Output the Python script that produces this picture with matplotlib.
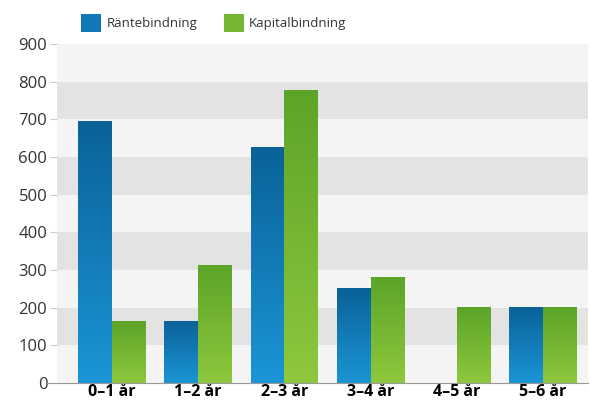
import numpy as np
import matplotlib.pyplot as plt
from matplotlib.colors import LinearSegmentedColormap
from matplotlib.patches import Patch

plt.rcParams['font.family'] = ['Open Sans', 'DejaVu Sans']

categories = ['0–1 år', '1–2 år', '2–3 år', '3–4 år', '4–5 år', '5–6 år']
rante = [693, 163, 624, 251, 0, 200]
kapital = [163, 313, 776, 280, 200, 200]
series_names = ['Räntebindning', 'Kapitalbindning']

blue_cmap = LinearSegmentedColormap.from_list('b', ['#1b95d6', '#0a6298'])
green_cmap = LinearSegmentedColormap.from_list('g', ['#8ec83d', '#5ca428'])

fig = plt.figure(figsize=(5.9, 4.03), dpi=100)
ax = fig.add_axes([0.0966, 0.0496, 0.9, 0.8413])

# alternating bands
ax.set_facecolor('#f4f4f4')
for lo in range(100, 900, 200):
    ax.axhspan(lo, lo + 100, color='#e3e3e3', zorder=0, lw=0)

x = np.arange(len(categories))
w = 0.39


def grad_bars(xs, vals, cmap):
    bars = ax.bar(xs, vals, w, color='none', lw=0, zorder=2)
    grad = np.linspace(0, 1, 256).reshape(-1, 1)
    for b in bars:
        h = b.get_height()
        if h <= 0:
            continue
        x0 = b.get_x()
        ax.imshow(grad, cmap=cmap, origin='lower', aspect='auto',
                  extent=[x0, x0 + w, 0, h], zorder=2, vmin=0, vmax=1)
    return bars


grad_bars(x - w / 2, rante, blue_cmap)
grad_bars(x + w / 2, kapital, green_cmap)

ax.set_xlim(-0.635, 5.52)
ax.set_ylim(0, 900)
ax.set_yticks(range(0, 901, 100))
ax.set_xticks(x)
ax.set_xticklabels(categories, fontweight='bold', fontsize=11.5)
ax.tick_params(axis='y', length=5, color='#cccccc', labelsize=12,
               labelcolor='#333333', pad=2)
ax.tick_params(axis='x', length=0, pad=1)
for s in ['top', 'right', 'left']:
    ax.spines[s].set_visible(False)
ax.spines['bottom'].set_color('#999999')
ax.spines['bottom'].set_bounds(-0.75, 5.52)
ax.spines['bottom'].set_clip_on(False)

handles = [Patch(facecolor='#1279b8', label=series_names[0]),
           Patch(facecolor='#74b632', label=series_names[1])]
fig.legend(handles=handles, loc='upper left', bbox_to_anchor=(0.118, 0.995),
           ncol=2, frameon=False, fontsize=9.5, handlelength=1.5,
           handleheight=1.7, handletextpad=0.4, columnspacing=2.0,
           labelcolor='#333333')

fig.savefig('out.png', dpi=100)
